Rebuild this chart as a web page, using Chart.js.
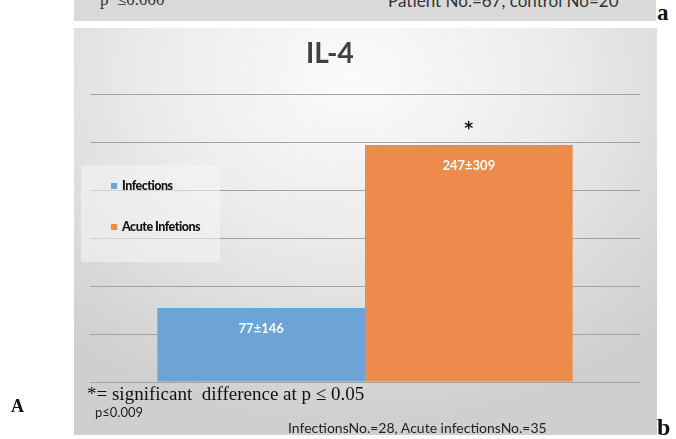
<!DOCTYPE html>
<html>
<head>
<meta charset="utf-8">
<script src="https://cdn.jsdelivr.net/npm/chart.js@4.4.1/dist/chart.umd.min.js"></script>
<style>
    html, body { margin: 0; padding: 0; background: #fff; }
    #page { position: relative; width: 676px; height: 439px; overflow: hidden; font-family: Lato, 'Open Sans', sans-serif; }
    .abs { position: absolute; white-space: nowrap; }
    #top-panel { left: 74px; top: 0; width: 582px; height: 21px; background: #d9d9d9; overflow: hidden; }
    #main-panel { left: 74px; top: 28px; width: 583px; height: 407px;
        background: radial-gradient(ellipse 75% 85% at 48% 12%, #fbfbfb 0%, #ececec 45%, #d9d9d9 80%, #cfcfcf 100%); }
    #chart-wrap { left: 0; top: 0; width: 676px; height: 439px; }
    #legend { left: 81px; top: 165px; width: 139px; height: 97px; background: rgba(246,246,246,0.55); }
    .leg-item { position: absolute; left: 30px; font-weight: 900; font-size: 12.5px; color: #111; letter-spacing: -0.5px; }
    .leg-sw { display: inline-block; width: 6px; height: 6px; margin-right: 5px; vertical-align: 1px; }
    .serif-b { font-family: 'Liberation Serif', 'DejaVu Serif', serif; font-weight: 700; color: #111; }
</style>
</head>
<body>
<div id="page">
    <div id="top-panel" class="abs">
        <div class="abs" style="left:26px; top:-10px; font-family:'Liberation Serif',serif; font-size:17px; color:#333;">p&nbsp; ≤0.000</div>
        <div class="abs" style="left:314px; top:-10px; font-size:17px; color:#333;">Patient No.=67, control No=20</div>
    </div>
    <div class="abs serif-b" style="left:657px; top:0px; font-size:23px;">a</div>
    <div id="main-panel" class="abs"></div>
    <div id="chart-wrap" class="abs"><canvas id="chart" width="676" height="439"></canvas></div>
    <div id="legend" class="abs"></div>
    <div class="abs" style="left:306px; top:35px; font-size:28px; font-weight:700; color:#404040;">IL-4</div>
    <div class="abs" style="left:87px; top:383px; font-family:'Liberation Serif',serif; font-size:19px; color:#111;">*= significant&nbsp; difference at p ≤ 0.05</div>
    <div class="abs" style="left:95px; top:404px; font-size:13px; color:#222;">p≤0.009</div>
    <div class="abs" style="left:288px; top:419px; font-size:14px; color:#222;">InfectionsNo.=28, Acute infectionsNo.=35</div>
    <div class="abs serif-b" style="left:11px; top:396px; font-size:18px;">A</div>
    <div class="abs serif-b" style="left:657px; top:414px; font-size:24px;">b</div>
</div>
<script>
// IL-4 means (with SD shown in labels)
const categories = ['IL-4'];
const seriesNames = ['Infections', 'Acute Infetions'];
const infections = [77];
const acuteInfections = [247];
const barLabels = ['77±146', '247±309'];
const significance = ['', '*'];
const colors = ['#6ca4d8', '#ec8b4b'];

// legend built from the series names
document.getElementById('legend').innerHTML = seriesNames.map((name, i) =>
    `<div class="leg-item" style="top:${i === 0 ? 13 : 54}px"><span class="leg-sw" style="background:${colors[i]}"></span>${name}</div>`
).join('');

const labelPlugin = {
    id: 'barLabels',
    afterDatasetsDraw(chart) {
        const ctx = chart.ctx;
        ctx.save();
        ctx.textAlign = 'center';
        ctx.textBaseline = 'middle';
        chart.data.datasets.forEach((ds, i) => {
            const bar = chart.getDatasetMeta(i).data[0];
            ctx.fillStyle = '#ffffff';
            ctx.font = 'bold 13px Lato, sans-serif';
            ctx.fillText(barLabels[i], bar.x, bar.y + 21);
            if (significance[i]) {
                ctx.fillStyle = '#111';
                ctx.font = 'bold 17px "DejaVu Sans", sans-serif';
                ctx.fillText(significance[i], bar.x, bar.y - 15);
            }
        });
        ctx.restore();
    }
};

new Chart(document.getElementById('chart'), {
    type: 'bar',
    data: {
        labels: categories,
        datasets: [
            { label: seriesNames[0], data: infections, backgroundColor: colors[0] },
            { label: seriesNames[1], data: acuteInfections, backgroundColor: colors[1] }
        ]
    },
    options: {
        responsive: false,
        animation: false,
        layout: { padding: { left: 90, right: 36, top: 94, bottom: 57 } },
        datasets: { bar: { barPercentage: 1.0, categoryPercentage: 0.755 } },
        plugins: { legend: { display: false }, tooltip: { enabled: false } },
        scales: {
            x: { display: false },
            y: {
                min: 0, max: 300,
                ticks: { display: false, stepSize: 50 },
                grid: { color: '#a3a3a3', lineWidth: 1, drawTicks: false },
                border: { display: false }
            }
        }
    },
    plugins: [labelPlugin]
});
</script>
</body>
</html>
